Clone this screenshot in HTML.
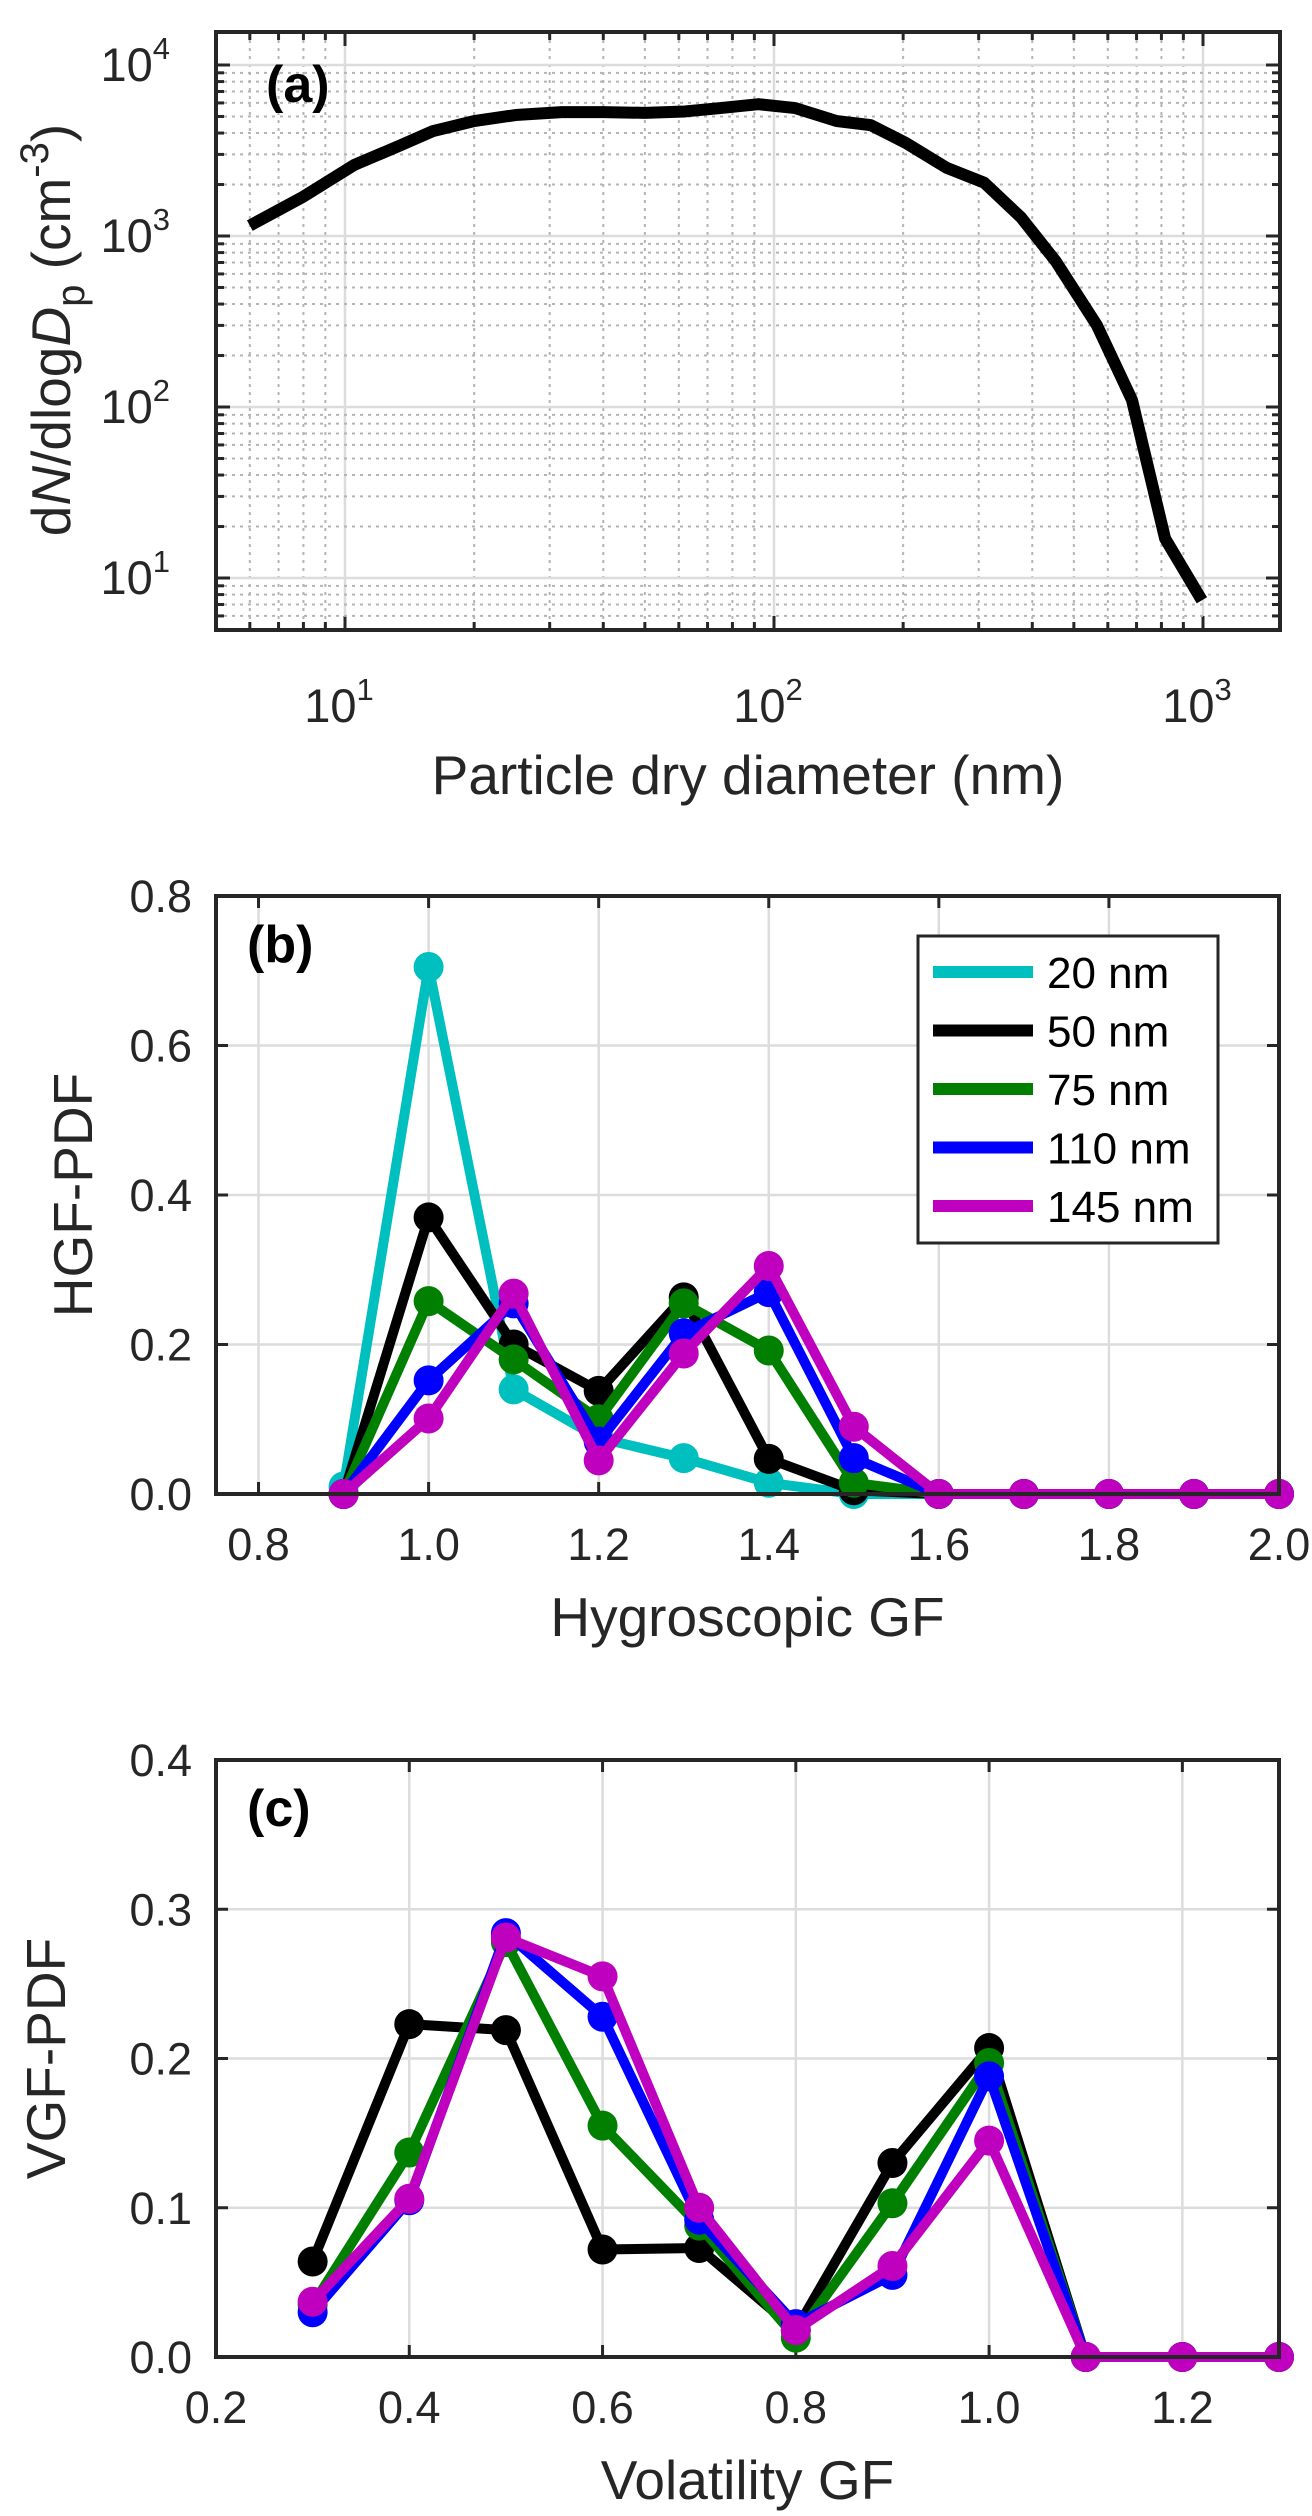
<!DOCTYPE html>
<html><head><meta charset="utf-8"><style>
body{margin:0;background:#fff}
svg{display:block;font-family:"Liberation Sans",Arial,sans-serif}
</style></head><body>
<svg id="fig" width="1312" height="2516" viewBox="0 0 1312 2516" xmlns="http://www.w3.org/2000/svg"></svg>
<script>
// ---- panel (a) data ----
const diamNm = [6, 8, 10.5, 13.5, 16, 20, 25, 32, 40, 50, 62, 75, 92, 112, 140, 168, 203, 253, 309, 377, 454, 566, 683, 816, 994];
const dNdlogDp = [1150, 1700, 2600, 3400, 4100, 4700, 5100, 5300, 5300, 5250, 5350, 5600, 5900, 5600, 4700, 4450, 3500, 2500, 2050, 1280, 710, 300, 110, 17, 7.4];
const aXTicks = [1, 2, 3];
const aYTicks = [1, 2, 3, 4];
// ---- panel (b) data ----
const hgfX = [0.9, 1.0, 1.1, 1.2, 1.3, 1.4, 1.5, 1.6, 1.7, 1.8, 1.9, 2.0];
const hgf20 = [0.01, 0.705, 0.14, 0.075, 0.048, 0.015, 0, 0, 0, 0, 0, 0];
const hgf50 = [0, 0.37, 0.2, 0.138, 0.263, 0.047, 0.005, 0, 0, 0, 0, 0];
const hgf75 = [0, 0.258, 0.18, 0.1, 0.255, 0.192, 0.015, 0, 0, 0, 0, 0];
const hgf110 = [0, 0.152, 0.255, 0.07, 0.215, 0.27, 0.048, 0, 0, 0, 0, 0];
const hgf145 = [0, 0.101, 0.268, 0.045, 0.188, 0.305, 0.09, 0, 0, 0, 0, 0];
const bXTicks = ["0.8", "1.0", "1.2", "1.4", "1.6", "1.8", "2.0"];
const bYTicks = ["0.0", "0.2", "0.4", "0.6", "0.8"];
// ---- panel (c) data ----
const vgfX = [0.3, 0.4, 0.5, 0.6, 0.7, 0.8, 0.9, 1.0, 1.1, 1.2, 1.3];
const vgf50 = [0.064, 0.223, 0.219, 0.072, 0.073, 0.018, 0.13, 0.207, 0, 0, 0];
const vgf75 = [0.035, 0.137, 0.278, 0.155, 0.088, 0.013, 0.103, 0.197, 0, 0, 0];
const vgf110 = [0.03, 0.105, 0.284, 0.228, 0.092, 0.022, 0.055, 0.188, 0, 0, 0];
const vgf145 = [0.037, 0.106, 0.281, 0.255, 0.1, 0.018, 0.061, 0.145, 0, 0, 0];
const cXTicks = ["0.2", "0.4", "0.6", "0.8", "1.0", "1.2"];
const cYTicks = ["0.0", "0.1", "0.2", "0.3", "0.4"];
const legendLabels = ["20 nm", "50 nm", "75 nm", "110 nm", "145 nm"];
const seriesColors = ["#00bfbf", "#000000", "#007f00", "#0000ff", "#bf00bf"];

const NS = "http://www.w3.org/2000/svg";
const svg = document.getElementById("fig");
function mk(tag, attrs, parent) {
  const e = document.createElementNS(NS, tag);
  for (const k in attrs) e.setAttribute(k, attrs[k]);
  (parent || svg).appendChild(e);
  return e;
}
const AX = "#262626", GRID = "#dcdcdc", FT = 45, FL = 55;

// ================= Panel (a) =================
const A = {l: 216, r: 1280, t: 32, b: 630};
const ax = v => 345 + (Math.log10(v) - 1) * 429;
const ay = v => 578 - (Math.log10(v) - 1) * 171;
const ga = mk("g", {});


for (let d = 0; d <= 3; d++) for (let m = 1; m <= 9; m++) {
  const v = m * Math.pow(10, d); const x = ax(v);
  if (x <= A.l || x >= A.r) continue;
  if (m === 1) mk("line", {x1: x, x2: x, y1: A.t, y2: A.b, stroke: GRID, "stroke-width": 2.5}, ga);
  else mk("line", {x1: x, x2: x, y1: A.t, y2: A.b, stroke: "#b4b4b4", "stroke-width": 2, "stroke-dasharray": "3 5"}, ga);
  mk("line", {x1: x, x2: x, y1: A.b, y2: A.b - (m === 1 ? 14 : 8), stroke: AX, "stroke-width": 3}, ga);
  mk("line", {x1: x, x2: x, y1: A.t, y2: A.t + (m === 1 ? 14 : 8), stroke: AX, "stroke-width": 3}, ga);
}
for (let d = 0; d <= 4; d++) for (let m = 1; m <= 9; m++) {
  const v = m * Math.pow(10, d); const y = ay(v);
  if (y <= A.t || y >= A.b) continue;
  if (m === 1) mk("line", {x1: A.l, x2: A.r, y1: y, y2: y, stroke: GRID, "stroke-width": 2.5}, ga);
  else mk("line", {x1: A.l, x2: A.r, y1: y, y2: y, stroke: "#b4b4b4", "stroke-width": 2, "stroke-dasharray": "3 5"}, ga);
  mk("line", {x1: A.l, x2: A.l + (m === 1 ? 14 : 8), y1: y, y2: y, stroke: AX, "stroke-width": 3}, ga);
  mk("line", {x1: A.r, x2: A.r - (m === 1 ? 14 : 8), y1: y, y2: y, stroke: AX, "stroke-width": 3}, ga);
}
const lineA = mk("polyline", {points: diamNm.map((d, i) => ax(d) + "," + ay(dNdlogDp[i])).join(" "), fill: "none", stroke: "#000", "stroke-width": 12, "stroke-linejoin": "round"}, ga);


mk("rect", {x: A.l, y: A.t, width: A.r - A.l, height: A.b - A.t, fill: "none", stroke: AX, "stroke-width": 4}, ga);
aXTicks.forEach(p => {
  const t = mk("text", {x: ax(Math.pow(10, p)) - 6, y: 722, "font-size": FT + 2, fill: AX, "text-anchor": "middle"}, ga);
  
  
  t.innerHTML = '10<tspan dy="-22" font-size="31">' + p + '</tspan>';
});
aYTicks.forEach(p => {
  const t = mk("text", {x: 170, y: ay(Math.pow(10, p)) + 16, "font-size": FT + 2, fill: AX, "text-anchor": "end"}, ga);
  
  
  t.innerHTML = '10<tspan dy="-22" font-size="31">' + p + '</tspan>';
});
const axl = mk("text", {x: 748, y: 794, "font-size": FL, fill: AX, "text-anchor": "middle"}, ga);


axl.textContent = "Particle dry diameter (nm)";
const ayl = mk("text", {x: 0, y: 0, "font-size": FL, fill: AX, "text-anchor": "middle", transform: "translate(70,330) rotate(-90)"}, ga);


ayl.innerHTML = 'd<tspan font-style="italic">N</tspan>/dlog<tspan font-style="italic">D</tspan><tspan dy="14" font-size="40">p</tspan><tspan dy="-14"> (cm</tspan><tspan dy="-22" font-size="40">-3</tspan><tspan dy="22">)</tspan>';
const pa = mk("text", {x: 266, y: 102, "font-size": 52, "font-weight": "bold", fill: "#000"}, ga);


pa.textContent = "(a)";

// ============== generic linear panel =============
function linPanel(name, box, xmin, xmax, ymin, ymax, xTicks, yTicks, xs, series, colors, xTitle, yTitle, label, yTitleX) {
  const g = mk("g", {});
  
  
  const sx = v => box.l + (v - xmin) / (xmax - xmin) * (box.r - box.l);
  const sy = v => box.b - (v - ymin) / (ymax - ymin) * (box.b - box.t);
  xTicks.forEach(s => {
    const x = sx(parseFloat(s));
    mk("line", {x1: x, x2: x, y1: box.t, y2: box.b, stroke: GRID, "stroke-width": 2.5}, g);
    mk("line", {x1: x, x2: x, y1: box.b, y2: box.b - 12, stroke: AX, "stroke-width": 3}, g);
    mk("line", {x1: x, x2: x, y1: box.t, y2: box.t + 12, stroke: AX, "stroke-width": 3}, g);
    const t = mk("text", {x: x, y: box.b + 66, "font-size": FT, fill: AX, "text-anchor": "middle"}, g);
    
    
    t.textContent = s;
  });
  yTicks.forEach(s => {
    const y = sy(parseFloat(s));
    mk("line", {x1: box.l, x2: box.r, y1: y, y2: y, stroke: GRID, "stroke-width": 2.5}, g);
    mk("line", {x1: box.l, x2: box.l + 12, y1: y, y2: y, stroke: AX, "stroke-width": 3}, g);
    mk("line", {x1: box.r, x2: box.r - 12, y1: y, y2: y, stroke: AX, "stroke-width": 3}, g);
    const t = mk("text", {x: 192, y: y + 16, "font-size": FT, fill: AX, "text-anchor": "end"}, g);
    
    
    t.textContent = s;
  });
  series.forEach((vals, si) => {
    const sg = mk("g", {}, g);
    
    
    mk("polyline", {points: xs.map((x, i) => sx(x) + "," + sy(vals[i])).join(" "), fill: "none", stroke: seriesColors[colors[si]], "stroke-width": 10, "stroke-linejoin": "round"}, sg);
    xs.forEach((x, i) => {
      const c = mk("circle", {cx: sx(x), cy: sy(vals[i]), r: 15, fill: seriesColors[colors[si]]}, sg);
      
      
    });
  });
  mk("rect", {x: box.l, y: box.t, width: box.r - box.l, height: box.b - box.t, fill: "none", stroke: AX, "stroke-width": 4}, g);
  const xt = mk("text", {x: (box.l + box.r) / 2, y: box.b + 142, "font-size": FL, fill: AX, "text-anchor": "middle"}, g);
  
  
  xt.textContent = xTitle;
  const yt = mk("text", {x: 0, y: 0, "font-size": FL, fill: AX, "text-anchor": "middle", transform: "translate(" + yTitleX + "," + ((box.t + box.b) / 2) + ") rotate(-90)"}, g);
  
  
  yt.textContent = yTitle;
  const pl = mk("text", {x: 247, y: box.t + 66, "font-size": 52, "font-weight": "bold", fill: "#000"}, g);
  
  
  pl.textContent = label;
  return g;
}

linPanel("panel-b", {l: 216, r: 1279, t: 896, b: 1494}, 0.75, 2.0, 0, 0.8, bXTicks, bYTicks, hgfX,
  [hgf20, hgf50, hgf75, hgf110, hgf145], [0, 1, 2, 3, 4], "Hygroscopic GF", "HGF-PDF", "(b)", 92);

// legend
const lg = mk("g", {});


mk("rect", {x: 918, y: 936, width: 300, height: 307, fill: "#fff", stroke: AX, "stroke-width": 3}, lg);
legendLabels.forEach((lab, i) => {
  const y = 972 + i * 58.5;
  const e = mk("g", {}, lg);
  
  
  mk("line", {x1: 933, x2: 1033, y1: y, y2: y, stroke: seriesColors[i], "stroke-width": 12}, e);
  const t = mk("text", {x: 1047, y: y + 16, "font-size": 44, fill: "#000"}, e);
  t.textContent = lab;
});

linPanel("panel-c", {l: 216, r: 1279, t: 1760, b: 2357}, 0.2, 1.3, 0, 0.4, cXTicks, cYTicks, vgfX,
  [vgf50, vgf75, vgf110, vgf145], [1, 2, 3, 4], "Volatility GF", "VGF-PDF", "(c)", 65);
</script>
</body></html>
